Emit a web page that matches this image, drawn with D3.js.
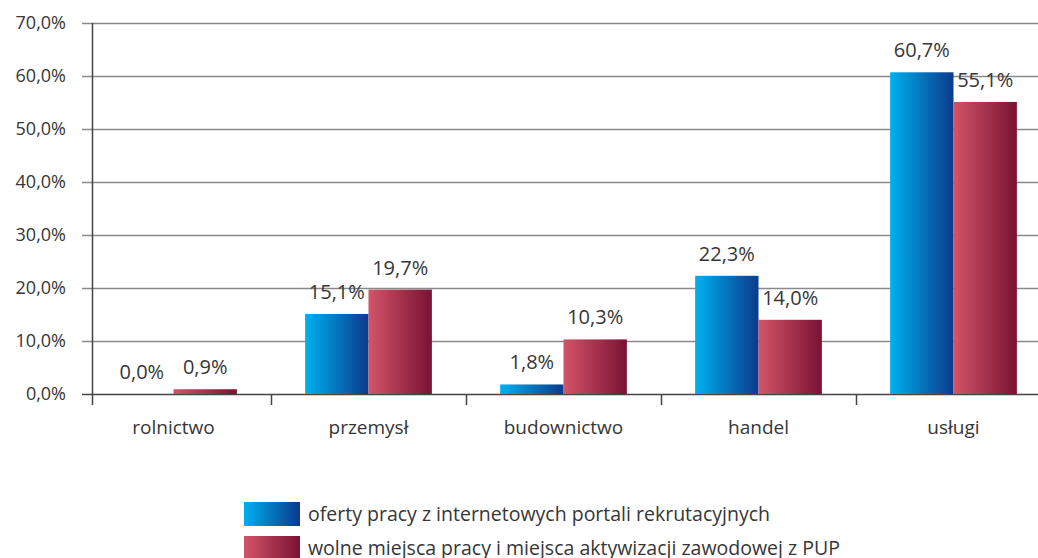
<!DOCTYPE html>
<html>
<head>
<meta charset="utf-8">
<script src="https://cdn.jsdelivr.net/npm/d3@7"></script>
<style>
  body { margin: 0; background: #fff; }
  svg text { font-family: "Open Sans", sans-serif; fill: #363636; }
</style>
</head>
<body>
<svg id="chart" width="1038" height="558"></svg>
<script>
// data
const categories = ["rolnictwo", "przemysł", "budownictwo", "handel", "usługi"];
const seriesNames = [
  "oferty pracy z internetowych portali rekrutacyjnych",
  "wolne miejsca pracy i miejsca aktywizacji zawodowej z PUP"
];
const portale = [0.0, 15.1, 1.8, 22.3, 60.7];
const pup = [0.9, 19.7, 10.3, 14.0, 55.1];
const yTicks = [0, 10, 20, 30, 40, 50, 60, 70];

const svg = d3.select("#chart");
const fmt = v => v.toFixed(1).replace(".", ",") + "%";

const x = d3.scaleBand()
  .domain(categories)
  .range([76, 1051])
  .paddingInner(0.35)
  .paddingOuter(0.175);

const x1 = d3.scaleBand()
  .domain([0, 1])
  .range([0, x.bandwidth()]);

const y = d3.scaleLinear()
  .domain([0, 70])
  .range([394, 23]);

// gradients
const defs = svg.append("defs");
function grad(id, c0, c1) {
  const g = defs.append("linearGradient").attr("id", id)
    .attr("x1", "0%").attr("x2", "100%").attr("y1", "0%").attr("y2", "0%");
  g.append("stop").attr("offset", "0%").attr("stop-color", c0);
  g.append("stop").attr("offset", "100%").attr("stop-color", c1);
}
grad("gBlue", "#00b0ef", "#0b3a8c");
grad("gRed", "#d25468", "#7a1233");
const fills = ["url(#gBlue)", "url(#gRed)"];

// gridlines
svg.append("g")
  .selectAll("line")
  .data(yTicks)
  .enter()
  .append("line")
  .attr("x1", 82)
  .attr("x2", 1052)
  .attr("y1", d => Math.round(y(d)) + 0.5)
  .attr("y2", d => Math.round(y(d)) + 0.5)
  .attr("stroke", d => d == 0 ? "#444" : "#8a8a8a")
  .attr("stroke-width", 1.5);

// y tick labels
svg.append("g")
  .selectAll("text")
  .data(yTicks)
  .enter()
  .append("text")
  .attr("x", 66)
  .attr("y", d => y(d))
  .attr("dy", "0.35em")
  .attr("text-anchor", "end")
  .style("font-size", "18px")
  .text(d => fmt(d));

// bars
const groups = svg.append("g")
  .selectAll("g")
  .data(categories)
  .enter()
  .append("g")
  .attr("transform", d => "translate(" + x(d) + ",0)");

groups.selectAll("rect")
  .data((d, i) => [portale[i], pup[i]])
  .enter()
  .append("rect")
  .attr("x", (d, j) => x1(j))
  .attr("width", x1.bandwidth())
  .attr("y", d => y(d))
  .attr("height", d => y(0) - y(d))
  .attr("fill", (d, j) => fills[j]);

groups.selectAll("text")
  .data((d, i) => [portale[i], pup[i]])
  .enter()
  .append("text")
  .attr("x", (d, j) => x1(j) + x1.bandwidth() / 2)
  .attr("y", d => y(d) - 15)
  .attr("text-anchor", "middle")
  .style("font-size", "20px")
  .text(d => fmt(d));

// y axis line
svg.append("line")
  .attr("x1", 92.5).attr("x2", 92.5)
  .attr("y1", y(70)).attr("y2", 405)
  .attr("stroke", "#444").attr("stroke-width", 1.5);

// category ticks
const bounds = categories.slice(1).map(c => x(c) - x.step() * x.paddingInner() / 2);
svg.append("g")
  .selectAll("line")
  .data(bounds)
  .enter()
  .append("line")
  .attr("x1", d => Math.round(d) + 0.5)
  .attr("x2", d => Math.round(d) + 0.5)
  .attr("y1", y(0))
  .attr("y2", 405)
  .attr("stroke", "#444").attr("stroke-width", 1.5);

// category labels
svg.append("g")
  .selectAll("text")
  .data(categories)
  .enter()
  .append("text")
  .attr("x", d => x(d) + x.bandwidth() / 2)
  .attr("y", 434)
  .attr("text-anchor", "middle")
  .style("font-size", "19px")
  .text(d => d);

// legend
const legend = svg.append("g")
  .selectAll("g")
  .data(seriesNames)
  .enter()
  .append("g")
  .attr("transform", (d, i) => "translate(244," + (502 + i * 34) + ")");

legend.append("rect")
  .attr("width", 56)
  .attr("height", 24)
  .attr("fill", (d, i) => fills[i]);

legend.append("text")
  .attr("x", 64)
  .attr("y", 12)
  .attr("dy", "0.35em")
  .style("font-size", "19.5px")
  .text(d => d);
</script>
</body>
</html>
